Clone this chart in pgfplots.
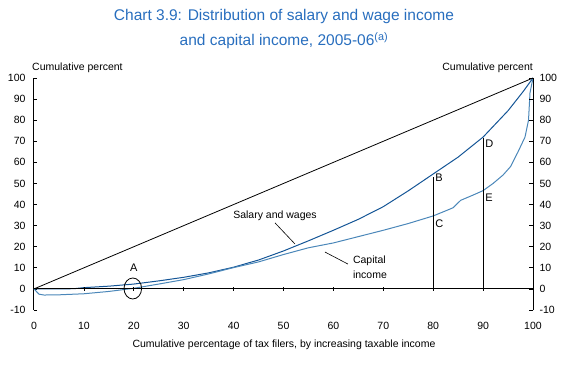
\documentclass[border=0pt]{standalone}
\usepackage{pgfplots}
\pgfplotsset{compat=1.18}
\usepackage{fontspec}
\setmainfont{Liberation Sans}
\definecolor{titleblue}{RGB}{40,110,190}
\definecolor{salblue}{RGB}{20,85,150}
\definecolor{capblue}{RGB}{75,135,185}
\begin{document}
\begin{tikzpicture}[x=1pt,y=1pt]
\path[use as bounding box] (0pt,0pt) rectangle (568pt,365pt);
\pgfplotsset{base/.style={at={(34pt,55pt)}, anchor=south west, scale only axis,
  width=499pt, height=232pt, xmin=0, xmax=100, ymin=-10, ymax=100,
  ytick={-10,0,...,100},
  tick label style={font=\fontsize{10.5}{12}\selectfont},
  /pgf/number format/assume math mode=true, clip=false,
  hide obscured x ticks=false, hide obscured y ticks=false}}
\begin{axis}[base, axis x line*=bottom, axis y line*=left,
  xtick={0,10,...,100},
  x axis line style={draw=none}, xtick style={draw=none},
  ytick style={black, line width=0.8pt}, tick align=inside, major tick length=3pt,
  y axis line style={black, line width=1pt},
  xticklabel style={yshift=-9pt}, yticklabel style={xshift=-5pt}]
\addplot[black, line width=0.8pt] coordinates {(0,0) (100,100)};
\addplot[salblue, line width=1pt] coordinates {(0,0)(5,0)(8,0.1)(10,0.6)(15,1.3)(20,2.3)(25,3.8)(30,5.5)(35,7.6)(40,10.3)(45,13.7)(50,18)(55,22.8)(60,27.8)(65,33)(70,39)(75,46.5)(80,54.5)(85,62.5)(90,72)(95,84.5)(98,93.5)(100,100)};
\addplot[capblue, line width=1pt] coordinates {(0,0)(1,-2.5)(2,-2.9)(5,-2.8)(10,-2.3)(15,-1.2)(20,0.3)(25,2.3)(30,4.4)(35,7.1)(40,10.1)(45,12.8)(50,16.3)(55,19.5)(60,21.8)(65,24.8)(70,27.8)(75,31)(80,34.6)(83,37.5)(84,38.5)(85.5,42)(88,44.5)(90,46.6)(92,50)(94,54)(95.5,58)(97,65)(98.4,72)(99.1,80)(99.4,93)(100,100)};
\addplot[black, line width=1pt] coordinates {(80,0) (80,53)};
\addplot[black, line width=1pt] coordinates {(90,0) (90,71.5)};
\draw[black, line width=0.8pt] (axis cs:19.8,0.2) ellipse [x radius=8.8pt, y radius=10.5pt];
\node[font=\fontsize{11}{13}\selectfont] at (axis cs:20,10) {A};
\node[anchor=west, font=\fontsize{11}{13}\selectfont, inner sep=0pt] at (axis cs:80.4,52.5) {B};
\node[anchor=west, font=\fontsize{11}{13}\selectfont, inner sep=0pt] at (axis cs:80.4,30.8) {C};
\node[anchor=west, font=\fontsize{11}{13}\selectfont, inner sep=0pt] at (axis cs:90.4,69) {D};
\node[anchor=west, font=\fontsize{11}{13}\selectfont, inner sep=0pt] at (axis cs:90.4,43.3) {E};
\node[anchor=west, font=\fontsize{10.5}{12}\selectfont, inner sep=0pt] at (axis cs:39.9,34.6) {Salary and wages};
\draw[black, line width=0.6pt] (axis cs:48.3,31.3) -- (axis cs:52.3,21.3);
\node[anchor=west, align=left, font=\fontsize{10.5}{15}\selectfont, inner sep=0pt] at (axis cs:63.9,10.2) {Capital\\income};
\draw[black, line width=0.6pt] (axis cs:58.3,17.5) -- (axis cs:62.9,11.8);
\end{axis}
\begin{axis}[base, axis x line*=middle, axis y line*=right,
  xtick={10,20,...,100}, xticklabels={},
  x axis line style={black, line width=1pt},
  xtick style={black, line width=0.8pt}, xtick align=center,
  ytick style={black, line width=0.8pt}, ytick align=inside, major tick length=4pt,
  y axis line style={black, line width=1pt},
  yticklabel style={xshift=3pt}]
\end{axis}
\node[anchor=west, font=\fontsize{10.5}{12}\selectfont, inner sep=0pt] at (32pt,297pt) {Cumulative percent};
\node[anchor=east, font=\fontsize{10.5}{12}\selectfont, inner sep=0pt] at (533pt,297pt) {Cumulative percent};
\node[font=\fontsize{10.5}{12}\selectfont, inner sep=0pt] at (284pt,20pt) {Cumulative percentage of tax filers, by increasing taxable income};
\node[align=center, text=titleblue, font=\fontsize{15.5}{25}\selectfont] at (284pt,336pt) {Chart 3.9: Distribution of salary and wage income\\and capital income, 2005-06\textsuperscript{(a)}};
\end{tikzpicture}
\end{document}
